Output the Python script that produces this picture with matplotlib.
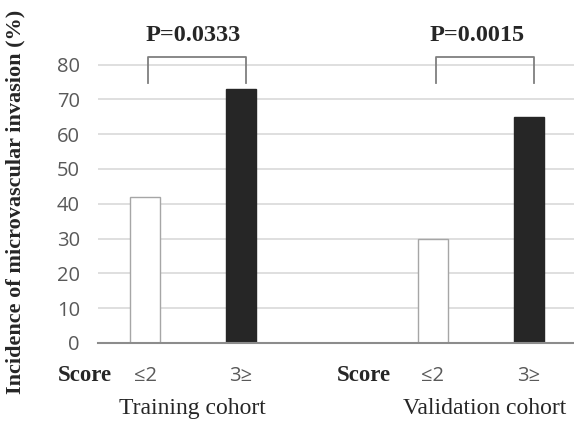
import matplotlib
matplotlib.use("Agg")
import matplotlib.pyplot as plt

cohorts = ["Training cohort", "Validation cohort"]
score_labels = ["≤2", "3≥"]
training_values = [42, 73]
validation_values = [30, 65]
p_values = ["P=0.0333", "P=0.0015"]
y_ticks = [0, 10, 20, 30, 40, 50, 60, 70, 80]

fig = plt.figure(figsize=(5.74, 4.24), dpi=100)
ax = fig.add_axes([98/574, 1-343/424, 1-98/574, 85*3.48/424])

positions = [0, 1, 3, 4]
values = training_values + validation_values
colors = ["white", "#262626", "white", "#262626"]
edges = ["#a6a6a6", "#262626", "#a6a6a6", "#262626"]
ax.bar(positions, values, width=0.31, color=colors, edgecolor=edges, linewidth=1.0, zorder=3)

ax.set_xlim(-0.49, 4.47)
ax.set_ylim(0, 85)
ax.set_yticks(y_ticks)
ax.set_yticklabels([str(v) for v in y_ticks], fontfamily="Open Sans", fontsize=14.5, color="#595959")
ax.yaxis.grid(True, color="#d9d9d9", linewidth=1.2, zorder=0)
ax.set_axisbelow(True)
for s in ["top", "right", "left"]:
    ax.spines[s].set_visible(False)
ax.spines["bottom"].set_color("#8c8c8c")
ax.spines["bottom"].set_linewidth(1.5)
ax.spines["bottom"].set_zorder(4)
ax.tick_params(axis="y", length=0, pad=13)
ax.tick_params(axis="x", length=0, pad=16.5)
ax.set_xticks(positions)
ax.set_xticklabels(score_labels * 2, fontfamily="Open Sans", fontsize=14.5, color="#595959")

# Score labels
for xpos in [-0.34, 2.56]:
    ax.text(xpos, -9.4, "Score", ha="right", va="center",
            fontfamily="Liberation Serif", fontweight="bold", fontsize=16.5, color="#262626",
            clip_on=False)
# cohort labels
for xc, name in zip([0.49, 3.54], cohorts):
    ax.text(xc, -18.8, name, ha="center", va="center", fontfamily="Liberation Serif",
            fontsize=17, color="#262626", clip_on=False)

# brackets
for (a, b), p, xc in zip([(0, 1), (3, 4)], p_values, [0.5, 3.46]):
    x0, x1 = a + 0.03, b + 0.05
    ax.plot([x0, x0, x1, x1], [74.7, 82.2, 82.2, 74.7], color="#7f7f7f", linewidth=1.3,
            clip_on=False, zorder=5)
    ax.text(xc, 88.5, p, ha="center", va="center", fontfamily="Liberation Serif",
            fontweight="bold", fontsize=17.5, color="#262626", clip_on=False)

fig.text(15/574, 1-202/424, "Incidence of microvascular invasion (%)", rotation=90,
         ha="center", va="center", fontfamily="Liberation Serif", fontweight="bold",
         fontsize=16, color="#262626")

fig.savefig("out.png", dpi=100)
